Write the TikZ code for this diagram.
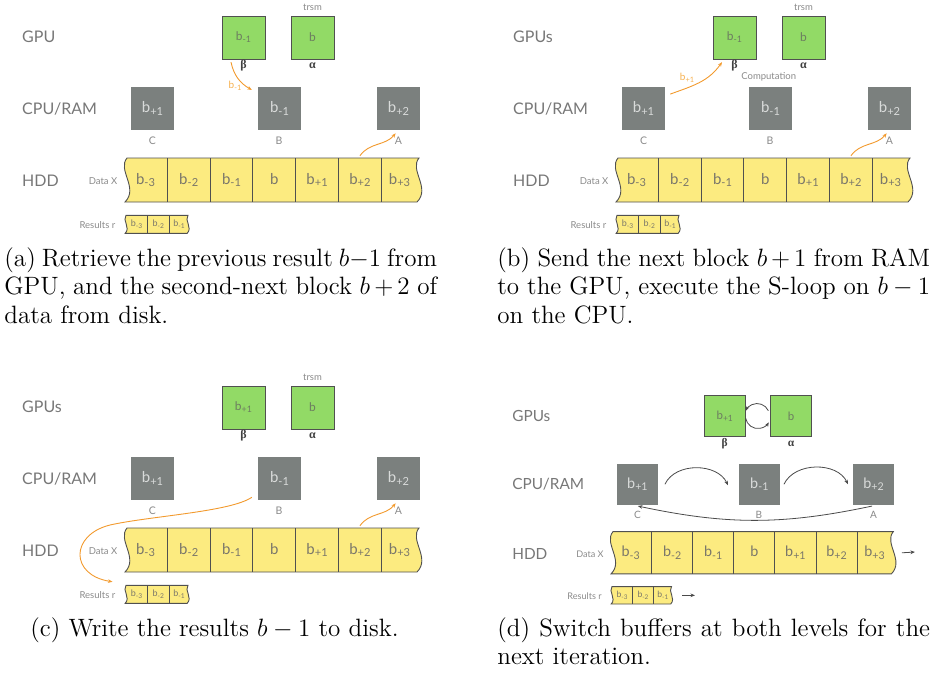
\documentclass[tikz,border=0pt]{standalone}
\usepackage{fontspec}
\usetikzlibrary{arrows.meta}
\newfontfamily\gill{Lato}
\newfontfamily\greekfont{Liberation Serif}
\tolerance=9999

\definecolor{gpugreen}{HTML}{92DA66}
\definecolor{cpugray}{HTML}{7B807E}
\definecolor{tapeyellow}{HTML}{FCEB80}
\definecolor{edgegray}{HTML}{505050}
\definecolor{labelgray}{HTML}{777777}
\definecolor{smallgray}{HTML}{8A8A8A}
\definecolor{greekgray}{HTML}{404040}
\definecolor{greentext}{HTML}{6C7D60}
\definecolor{cputext}{HTML}{D9DBDA}
\definecolor{celltext}{HTML}{7A776A}
\definecolor{flow}{HTML}{F29A2E}
\definecolor{flowtext}{HTML}{F6B04E}
\definecolor{swap}{HTML}{4A4A4A}

% block name with an offset written as a lowered, smaller suffix
\newcommand\bsub[1]{b\raisebox{-0.35ex}{\scalebox{0.74}{#1}}}

% wavy tape: #1 left x, #2 right x, #3 top y, #4 wave scale (height/44)
\newcommand\tapeoutline[4]{%
  \filldraw[tapeline] (#1,#3) -- (#2,#3)
    .. controls +(-10*#4,-12*#4) and +(14*#4,14*#4) .. (#2-2*#4,#3-44*#4)
    -- (#1-2*#4,#3-44*#4)
    .. controls +(14*#4,14*#4) and +(-10*#4,-12*#4) .. (#1,#3) -- cycle;}

% the three storage levels shared by every step
% #1 name of the GPU row, #2 block held in buffer beta
\newcommand\storagelevels[2]{%
  \node[rowlabel] (gpu) at (22,-37) {#1};
  \node[rowlabel] (cpu) at (22,-108.5) {CPU/RAM};
  \node[rowlabel] (hdd) at (22,-181) {HDD};
  \node[gpubox] (beta) at (243.5,-37.5) {#2};
  \node[gpubox] (alpha) at (312.5,-37.5) {b};
  \node[greek] (betaname) at (243.5,-66) {β};
  \node[greek] (alphaname) at (312.5,-66) {α};
  \node[cpubox] (C) at (152.5,-108.6) {\bsub{+1}};
  \node[cpubox] (B) at (279.5,-108.6) {\bsub{-1}};
  \node[cpubox] (A) at (398.5,-108.6) {\bsub{+2}};
  \node[bufname] (Cname) at (152.5,-141) {C};
  \node[bufname] (Bname) at (279,-141) {B};
  \node[bufname] (Aname) at (398.5,-141) {A};
  % data on disk
  \tapeoutline{127}{419}{-158}{1}
  \foreach \x in {167.3,210.1,252.9,295.7,338.5,381.3}
    \draw[divider] (\x,-158) -- (\x,-202);
  \foreach \x/\s [count=\i] in {145.5/-3,188.7/-2,231.5/-1,274.3/{},317.1/+1,359.9/+2,399.5/+3}
    \node[cell] (c\i) at (\x,-180) {\bsub{\s}};
  \node[smalltext, anchor=east] (datax) at (117.5,-181) {Data X};
  % results on disk
  \tapeoutline{126}{188}{-215.3}{0.41}
  \foreach \x in {147.3,169.3}
    \draw[divider] (\x,-215.3) -- (\x,-233.3);
  \foreach \x/\s [count=\i] in {136.5/-3,158.3/-2,179/-1}
    \node[rcell] (r\i) at (\x,-224.3) {\bsub{\s}};
  \node[smalltext, anchor=east] (resname) at (115.5,-225) {Results r};
}

\begin{document}
\begin{tikzpicture}[x=1pt, y=1pt,
  rowlabel/.style={anchor=west, inner sep=0, text=labelgray, font=\gill\fontsize{16}{16}\selectfont},
  gpubox/.style={draw=edgegray, line width=0.9pt, fill=gpugreen, minimum size=43pt, inner sep=0,
    text=greentext, font=\gill\fontsize{12}{12}\selectfont},
  cpubox/.style={fill=cpugray, minimum size=43pt, inner sep=0, text=cputext,
    font=\gill\fontsize{15}{15}\selectfont},
  greek/.style={inner sep=0, text=greekgray, font=\greekfont\bfseries\fontsize{12}{12}\selectfont},
  bufname/.style={inner sep=0, text=smallgray, font=\gill\fontsize{10.5}{11}\selectfont},
  smalltext/.style={inner sep=0, text=smallgray, font=\gill\fontsize{9.5}{10}\selectfont},
  tapeline/.style={draw=edgegray, line width=0.9pt, fill=tapeyellow},
  divider/.style={draw=edgegray, line width=0.9pt},
  cell/.style={minimum width=42.8pt, minimum height=44pt, inner sep=0, text=celltext,
    font=\gill\fontsize{15}{15}\selectfont},
  rcell/.style={minimum width=22pt, minimum height=18pt, inner sep=0, text=celltext,
    font=\gill\fontsize{9}{9}\selectfont},
  flowarrow/.style={draw=flow, line width=0.9pt, -{Stealth[length=4.5pt,width=3.6pt]}},
  flowlabel/.style={inner sep=0, text=flowtext, font=\gill\fontsize{10}{10}\selectfont},
  swaparrow/.style={draw=swap, line width=0.8pt, -{Stealth[length=4.5pt,width=3.6pt]}},
  caption/.style={anchor=north west, inner sep=0, scale=2.09, transform shape,
    font=\fontsize{12}{13.75}\selectfont},
  captionpar/.style={caption, text width=207pt, align=justify}]
\useasboundingbox (0,0) rectangle (934,-675);

% (a) fetch the previous result and the second-next block
\begin{scope}[name prefix=a-]
  \storagelevels{GPU}{\bsub{-1}}
  \node[smalltext] (trsm) at (312.5,-7) {trsm};
  \draw[flowarrow] ([shift={(-12.5,-2.7)}]beta.south) to[out=-78,in=150] ([shift={(-6,-3)}]B.north west);
  \node[flowlabel] (fetched) at (235,-86) {\bsub{-1}};
  \draw[flowarrow] ([yshift=2]c6.north) to[out=55,in=230] ([shift={(-2.8,7.7)}]Aname.center);
\end{scope}

% (b) send the next block, compute on the CPU
\begin{scope}[shift={(491,0)}, name prefix=b-]
  \storagelevels{GPUs}{\bsub{-1}}
  \node[smalltext] (trsm) at (312.5,-7) {trsm};
  \node[smalltext] (comp) at (277.7,-76.7) {Computation};
  \draw[flowarrow] ([shift={(5,14.5)}]C.east) to[out=20,in=235] ([shift={(-12.5,-2.7)}]beta.south);
  \node[flowlabel] (sent) at (196,-78) {\bsub{+1}};
  \draw[flowarrow] ([yshift=2]c6.north) to[out=55,in=230] ([shift={(-2.8,7.7)}]Aname.center);
\end{scope}

% (c) write the results back
\begin{scope}[shift={(0,-370)}, name prefix=c-]
  \storagelevels{GPUs}{\bsub{+1}}
  \node[smalltext] (trsm) at (312.5,-7) {trsm};
  \draw[flowarrow] ([shift={(-6,3)}]B.south west)
    .. controls (230,-142) and (150,-146) .. (110,-155)
    .. controls (70,-165) and (70,-205) .. ([shift={(-3,9.5)}]resname.north east);
  \draw[flowarrow] ([yshift=2]c6.north) to[out=55,in=230] ([shift={(-2.8,7.7)}]Aname.center);
\end{scope}

% (d) rotate the buffers
\begin{scope}[shift={(491,-380)}, scale=0.96, transform shape, name prefix=d-]
  \storagelevels{GPUs}{\bsub{+1}}
  \draw[swaparrow] ([shift={(-1.6,5.5)}]alpha.west) arc[start angle=25, end angle=155, radius=13];
  \draw[swaparrow] ([shift={(-0.2,-2.3)}]beta.east) arc[start angle=190, end angle=330, radius=13];
  \draw[swaparrow] ([xshift=7]C.east) to[out=65,in=115] ([shift={(-11,-1)}]B.west);
  \draw[swaparrow] ([xshift=4]B.east) to[out=65,in=115] ([xshift=-5]A.west);
  \draw[swaparrow] ([shift={(-1.5,-1)}]A.south) to[bend left=12] ([shift={(0.5,-1)}]C.south);
  \coordinate (tapeout) at (441.6,-179.2);
  \coordinate (resout) at (212.5,-224.3);
  \draw[swaparrow] ([xshift=7]c7.east) -- (tapeout);
  \draw[swaparrow] ([xshift=9]r3.east) -- (resout);
\end{scope}

\node[captionpar] (capa) at (4,-247) {(a) Retrieve the previous result $b{-}1$ from\linebreak GPU, and the second-next block $b+2$ of\linebreak data from disk.};
\node[captionpar] (capb) at (497,-247) {(b) Send the next block $b+1$ from RAM\linebreak to the GPU, execute the S-loop on $b-1$\linebreak on the CPU.};
\node[caption] (capc) at (30,-617) {(c) Write the results $b-1$ to disk.};
\node[captionpar] (capd) at (497,-617) {(d) Switch buffers at both levels for the\linebreak next iteration.};
\end{tikzpicture}
\end{document}
